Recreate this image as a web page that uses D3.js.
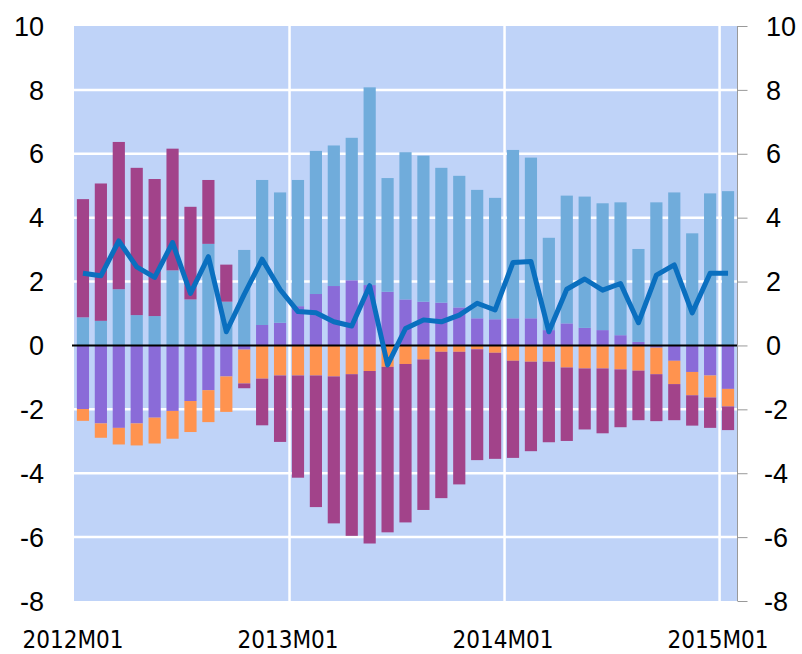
<!DOCTYPE html>
<html>
<head>
<meta charset="utf-8">
<script src="https://cdn.jsdelivr.net/npm/d3@7"></script>
<style>
  body { margin: 0; background: #fff; }
  svg { display: block; }
</style>
</head>
<body>
<div id="chart"></div>
<script>
// months 2012M01 .. 2015M01
var months = [];
for (var yr = 2012; yr <= 2015; yr++) {
  for (var m = 1; m <= 12; m++) {
    if (yr === 2015 && m > 1) break;
    months.push(yr + "M" + (m < 10 ? "0" + m : m));
  }
}
var xTicks = ["2012M01", "2013M01", "2014M01", "2015M01"];
var yTicks = [-8, -6, -4, -2, 0, 2, 4, 6, 8, 10];

// light blue
var seriesA = [0.88, 0.77, 1.76, 0.95, 0.92, 2.35, 1.44, 3.18, 1.37, 2.99,
  4.54, 4.08, 3.95, 4.48, 4.40, 4.46, 6.19, 3.56, 4.61, 4.57,
  4.22, 4.12, 4.02, 3.80, 5.27, 5.03, 2.89, 4.00, 4.11, 3.97,
  4.16, 2.91, 4.48, 4.79, 3.51, 4.76, 4.83];
// magenta
var seriesB = [3.70, 4.30, 4.61, 4.61, 4.29, 3.81, 2.90, 2.00, 1.16, -0.15,
  -1.46, -2.08, -3.20, -4.12, -4.60, -5.06, -5.40, -5.18, -4.96, -4.71,
  -4.58, -4.15, -3.47, -3.32, -3.04, -2.80, -2.52, -2.30, -1.91, -2.03,
  -1.81, -1.55, -1.47, -1.13, -0.95, -0.95, -0.74];
// purple
var seriesC = [-1.99, -2.44, -2.58, -2.44, -2.26, -2.05, -1.74, -1.40, -0.97, -0.13,
  0.64, 0.71, 1.23, 1.61, 1.86, 2.04, 1.89, 1.68, 1.44, 1.37,
  1.34, 1.19, 0.85, 0.82, 0.85, 0.85, 0.48, 0.69, 0.55, 0.48,
  0.32, 0.11, -0.07, -0.48, -0.83, -0.94, -1.36];
// orange
var seriesD = [-0.37, -0.45, -0.52, -0.69, -0.81, -0.87, -0.97, -1.00, -1.11, -1.06,
  -1.04, -0.94, -0.94, -0.94, -0.97, -0.90, -0.80, -0.67, -0.58, -0.44,
  -0.20, -0.20, -0.12, -0.23, -0.48, -0.51, -0.51, -0.69, -0.72, -0.72,
  -0.75, -0.79, -0.83, -0.73, -0.73, -0.69, -0.55];
// total line
var totalLine = [2.26, 2.18, 3.27, 2.46, 2.13, 3.22, 1.63, 2.78, 0.43, 1.60,
  2.70, 1.75, 1.06, 1.02, 0.74, 0.61, 1.87, -0.61, 0.53, 0.80,
  0.74, 0.95, 1.32, 1.11, 2.60, 2.63, 0.43, 1.76, 2.08, 1.73,
  1.94, 0.71, 2.20, 2.52, 1.02, 2.26, 2.26];

var width = 802, height = 654;
var plotLeft = 74, plotRight = 737, plotTop = 26, plotBottom = 601;

var colors = { C: "#8a6bd8", A: "#70acdb", D: "#ff934f", B: "#a2438a" };

var rows = months.map(function(d, i) {
  return { month: d, A: seriesA[i], B: seriesB[i], C: seriesC[i], D: seriesD[i] };
});

var svg = d3.select("#chart").append("svg")
  .attr("width", width)
  .attr("height", height);

var x = d3.scaleBand().domain(months).range([plotLeft, plotRight]);
var y = d3.scaleLinear().domain([-8, 10]).range([plotBottom, plotTop]);
var bw = x.step() * 0.68;
var off = (x.step() - bw) / 2;

// background
svg.append("rect")
  .attr("x", plotLeft).attr("y", plotTop)
  .attr("width", plotRight - plotLeft).attr("height", plotBottom - plotTop)
  .attr("fill", "#bfd3f8");

// horizontal grid
svg.selectAll(".hgrid")
  .data(yTicks.filter(function(d) { return d > -8 && d < 10 && d !== 0; }))
  .enter().append("line")
    .attr("x1", plotLeft).attr("x2", plotRight)
    .attr("y1", function(d) { return y(d); })
    .attr("y2", function(d) { return y(d); })
    .attr("stroke", "#fff").attr("stroke-width", 2.5);

// vertical grid
svg.selectAll(".vgrid")
  .data(xTicks.slice(1))
  .enter().append("line")
    .attr("x1", function(d) { return x(d) + 0.5; })
    .attr("x2", function(d) { return x(d) + 0.5; })
    .attr("y1", plotTop).attr("y2", plotBottom)
    .attr("stroke", "#fff").attr("stroke-width", 2.5);

// stacked bars
var stack = d3.stack().keys(["C", "A", "D", "B"]).offset(d3.stackOffsetDiverging);
var layers = stack(rows);

svg.selectAll(".layer")
  .data(layers)
  .enter().append("g")
    .attr("fill", function(d) { return colors[d.key]; })
  .selectAll("rect")
  .data(function(d) { return d; })
  .enter().append("rect")
    .attr("x", function(d) { return x(d.data.month) + off; })
    .attr("width", bw)
    .attr("y", function(d) { return y(Math.max(d[0], d[1])); })
    .attr("height", function(d) { return Math.abs(y(d[0]) - y(d[1])); });

// zero line
svg.append("line")
  .attr("x1", plotLeft - 2).attr("x2", plotRight)
  .attr("y1", y(0)).attr("y2", y(0))
  .attr("stroke", "#000").attr("stroke-width", 2);

// total line
var line = d3.line()
  .x(function(d, i) { return x(months[i]) + x.step() / 2; })
  .y(function(d) { return y(d); });

svg.append("path")
  .datum(totalLine)
  .attr("d", line)
  .attr("fill", "none")
  .attr("stroke", "#0a6fbf")
  .attr("stroke-width", 5)
  .attr("stroke-linejoin", "round");

// right axis
var rAxis = svg.append("g")
  .attr("transform", "translate(" + (plotRight + 0.5) + ",0)")
  .call(d3.axisRight(y).tickValues(yTicks).tickSize(10).tickFormat(""));
rAxis.select(".domain").attr("stroke", "#999").attr("d", "M0," + plotTop + "V" + plotBottom);
rAxis.selectAll(".tick line").attr("stroke", "#999");

// y labels
svg.selectAll(".ylabL")
  .data(yTicks)
  .enter().append("text")
    .attr("x", 44)
    .attr("y", function(d) { return y(d); })
    .attr("dy", "0.36em")
    .attr("text-anchor", "end")
    .style("font-family", "'Liberation Sans', Arial, sans-serif")
    .style("font-size", "27px")
    .text(function(d) { return d; });

svg.selectAll(".ylabR")
  .data(yTicks)
  .enter().append("text")
    .attr("x", function(d) { return d < 0 ? 764 : 766; })
    .attr("y", function(d) { return y(d); })
    .attr("dy", "0.36em")
    .attr("text-anchor", "start")
    .style("font-family", "'Liberation Sans', Arial, sans-serif")
    .style("font-size", "27px")
    .text(function(d) { return d; });

// x labels
svg.selectAll(".xlab")
  .data(xTicks)
  .enter().append("text")
    .attr("x", function(d) { return x(d) - 1; })
    .attr("y", 648)
    .attr("text-anchor", "middle")
    .style("font-family", "'DejaVu Sans Condensed', 'DejaVu Sans', sans-serif")
    .style("font-stretch", "condensed")
    .style("font-size", "24px")
    .text(function(d) { return d; });
</script>
</body>
</html>
